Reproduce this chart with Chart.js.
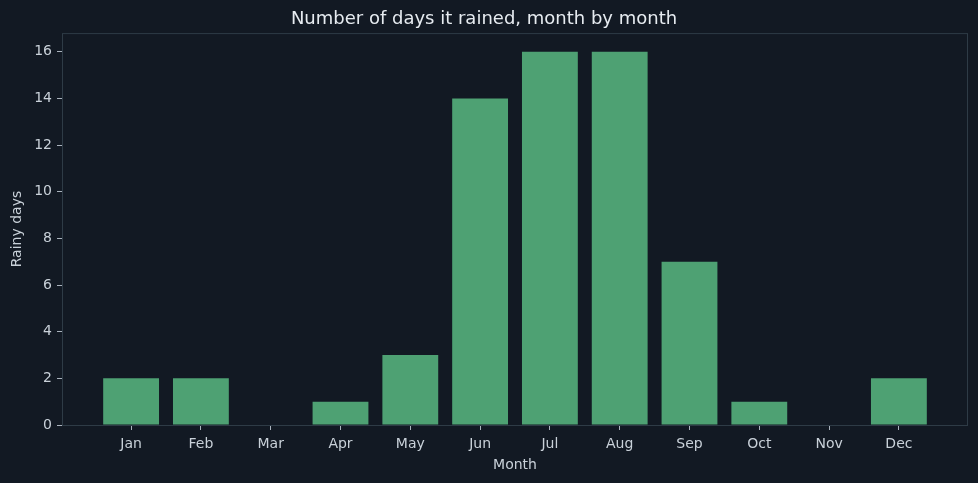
<!DOCTYPE html>
<html>
<head>
<meta charset="utf-8">
<script src="https://cdn.jsdelivr.net/npm/chart.js@4"></script>
<style>
  html, body { margin: 0; padding: 0; background: #121923; }
  #wrap { width: 978px; height: 483px; }
</style>
</head>
<body>
<div id="wrap"><canvas id="lluvia-chart"></canvas></div>
<script>
const meses = ["Jan", "Feb", "Mar", "Apr", "May", "Jun", "Jul", "Aug", "Sep", "Oct", "Nov", "Dec"];
const diasLluvia = [2, 2, 0, 1, 3, 14, 16, 16, 7, 1, 0, 2];
const ticksY = [0, 2, 4, 6, 8, 10, 12, 14, 16];

const colorTexto = "#c9d1d9";
const colorBorde = "#2e3b46";

// marco completo alrededor del area del grafico
const marcoPlugin = {
    id: "marco",
    afterDatasetsDraw(chart) {
        const { ctx, chartArea: a } = chart;
        ctx.save();
        ctx.strokeStyle = colorBorde;
        ctx.lineWidth = 1;
        ctx.strokeRect(a.left + 0.5, a.top + 0.5, a.right - a.left - 1, a.bottom - a.top);
        ctx.restore();
    }
};

Chart.defaults.font.family = "'DejaVu Sans', sans-serif";
Chart.defaults.color = colorTexto;

const ctx = document.getElementById("lluvia-chart").getContext("2d");
new Chart(ctx, {
    type: "bar",
    data: {
        datasets: [{
            label: "Rainy days",
            data: diasLluvia.map((v, i) => ({ x: i, y: v })),
            backgroundColor: "#4ea173",
            borderWidth: 0,
            barPercentage: 0.8,
            categoryPercentage: 1.0
        }]
    },
    options: {
        responsive: true,
        maintainAspectRatio: false,
        animation: false,
        layout: { padding: { left: 0, right: 10, top: 0, bottom: 0 } },
        plugins: {
            legend: { display: false },
            tooltip: { enabled: false },
            title: {
                display: true,
                text: "Number of days it rained, month by month",
                color: "#e6ebf0",
                font: { size: 18, weight: "normal" },
                padding: { top: 9, bottom: 2.5 }
            }
        },
        scales: {
            x: {
                type: "linear",
                min: -0.99,
                max: 11.99,
                offset: false,
                afterBuildTicks: (scale) => {
                    scale.ticks = meses.map((m, i) => ({ value: i }));
                },
                afterFit: (scale) => { scale.height = 58; },
                ticks: {
                    callback: (v) => meses[v],
                    font: { size: 14 },
                    padding: 6,
                    maxRotation: 0,
                    autoSkip: false
                },
                grid: { offset: false, drawOnChartArea: false, drawTicks: true, tickLength: 5, color: "#aab3bd" },
                border: { display: false },
                title: { display: true, text: "Month", font: { size: 14 }, padding: { top: 0, bottom: 9 } }
            },
            y: {
                min: 0,
                max: 16.8,
                afterBuildTicks: (scale) => {
                    scale.ticks = ticksY.map(v => ({ value: v }));
                },
                afterFit: (scale) => { scale.width = 62; },
                ticks: { font: { size: 14 }, padding: 5 },
                grid: { drawOnChartArea: false, drawTicks: true, tickLength: 5, color: "#aab3bd" },
                border: { display: false },
                title: { display: true, text: "Rainy days", font: { size: 14 }, padding: { top: 9, bottom: 0 } }
            }
        }
    },
    plugins: [marcoPlugin]
});
</script>
</body>
</html>
